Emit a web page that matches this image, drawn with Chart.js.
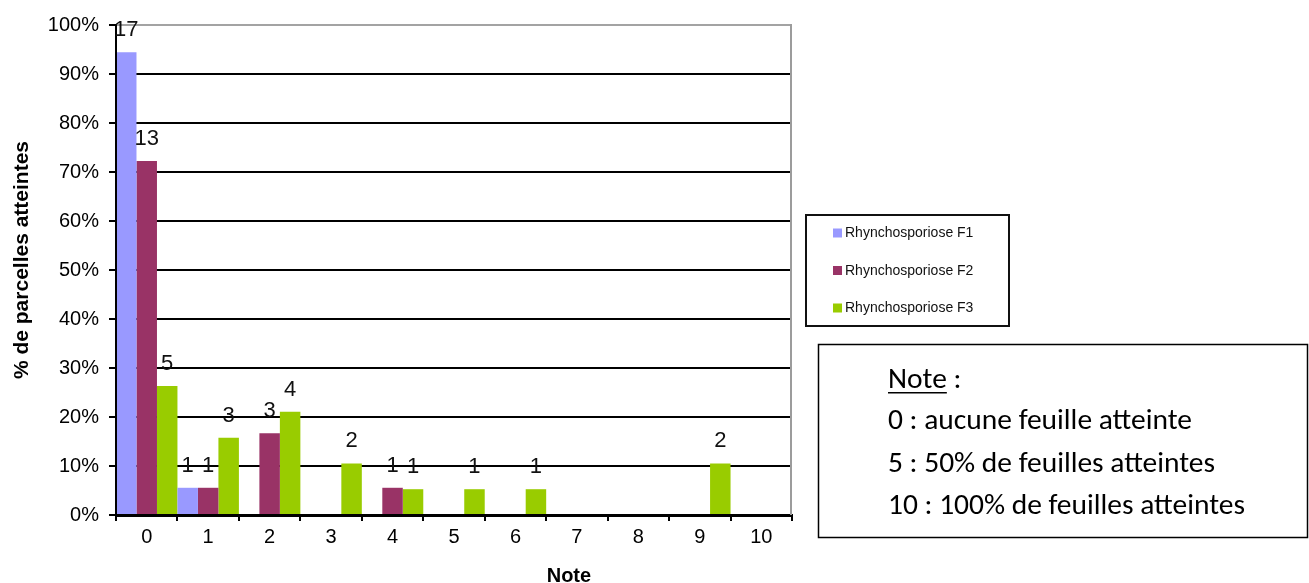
<!DOCTYPE html>
<html lang="fr">
<head>
<meta charset="utf-8">
<title>Rhynchosporiose – notes par étage foliaire</title>
<script src="https://cdn.jsdelivr.net/npm/chart.js@4.4.1/dist/chart.umd.min.js"></script>
<style>
  html, body { margin: 0; padding: 0; background: #fff; }
  canvas { display: block; }
</style>
</head>
<body>
<canvas id="chart" width="1309" height="583"></canvas>
<script>
// Notes de 0 à 10 (axe des catégories)
const notes = ['0', '1', '2', '3', '4', '5', '6', '7', '8', '9', '10'];

// Nombre de parcelles par note, pour chaque étage foliaire
const countsF1 = [17, 1, 0, 0, 0, 0, 0, 0, 0, 0, 0];
const countsF2 = [13, 1, 3, 0, 1, 0, 0, 0, 0, 0, 0];
const countsF3 = [5, 3, 4, 2, 1, 1, 1, 0, 0, 2, 0];

const seriesNames = ['Rhynchosporiose F1', 'Rhynchosporiose F2', 'Rhynchosporiose F3'];
const seriesColors = ['#9999FF', '#993366', '#99CC00'];

// Graduations de l'axe vertical (en %)
const yTickValues = [0, 10, 20, 30, 40, 50, 60, 70, 80, 90, 100];

// Texte de l'encadré explicatif
const noteTitle = 'Note';
const noteLines = [
  '0 : aucune feuille atteinte',
  '5 : 50% de feuilles atteintes',
  '10 : 100% de feuilles atteintes'
];

const seriesCounts = [countsF1, countsF2, countsF3];

// Part des parcelles atteintes : effectif de la note / total de la série
function toShare(counts) {
  const total = counts.reduce((s, v) => s + v, 0);
  return counts.map(v => v / total * 100);
}

const SANS = '"Liberation Sans", Arial, sans-serif';

const decorations = {
  id: 'decorations',
  beforeDatasetsDraw(chart) {
    const { ctx, chartArea: a } = chart;
    // bord droit du cadre du graphique
    ctx.save();
    ctx.strokeStyle = '#9c9c9c';
    ctx.lineWidth = 2;
    ctx.beginPath();
    ctx.moveTo(a.right - 1, a.top - 1);
    ctx.lineTo(a.right - 1, a.bottom);
    ctx.stroke();
    ctx.restore();
  },
  afterDatasetsDraw(chart) {
    const { ctx, chartArea: a } = chart;
    ctx.save();
    // axes repassés par-dessus le pied des barres
    ctx.strokeStyle = '#000';
    ctx.lineWidth = 2;
    ctx.beginPath();
    ctx.moveTo(a.left, a.top);
    ctx.lineTo(a.left, a.bottom + 1);
    ctx.lineTo(a.right, a.bottom + 1);
    ctx.stroke();

    // effectifs au-dessus des barres
    ctx.font = '22px ' + SANS;
    ctx.fillStyle = '#111';
    ctx.textAlign = 'center';
    ctx.textBaseline = 'alphabetic';
    chart.data.datasets.forEach((ds, i) => {
      const meta = chart.getDatasetMeta(i);
      meta.data.forEach((bar, j) => {
        const n = seriesCounts[i][j];
        if (n > 0) ctx.fillText(String(n), bar.x, bar.y - 16);
      });
    });
    ctx.restore();
  },
  afterDraw(chart) {
    const { ctx, chartArea: a } = chart;
    ctx.save();
    ctx.fillStyle = '#000';

    // titre de l'axe vertical
    ctx.save();
    ctx.font = 'bold 21px ' + SANS;
    ctx.translate(28, (a.top + a.bottom) / 2 - 10);
    ctx.rotate(-Math.PI / 2);
    ctx.textAlign = 'center';
    ctx.textBaseline = 'alphabetic';
    ctx.fillText('% de parcelles atteintes', 0, 0);
    ctx.restore();

    // titre de l'axe horizontal
    ctx.font = 'bold 20px ' + SANS;
    ctx.textAlign = 'center';
    ctx.textBaseline = 'alphabetic';
    ctx.fillText('Note', a.left + (a.right - a.left) * 0.67, 582);

    // légende encadrée
    const lg = { x: 806, y: 215, w: 203, h: 111 };
    ctx.strokeStyle = '#111';
    ctx.lineWidth = 2;
    ctx.strokeRect(lg.x, lg.y, lg.w, lg.h);
    ctx.font = '14px ' + SANS;
    ctx.textAlign = 'left';
    ctx.textBaseline = 'middle';
    chart.data.datasets.forEach((ds, i) => {
      const cy = 233 + i * 37.5;
      ctx.fillStyle = ds.backgroundColor;
      ctx.fillRect(833, cy - 4.5, 9, 9);
      ctx.fillStyle = '#111';
      ctx.fillText(ds.label, 845, cy + 0.5);
    });

    // encadré explicatif des notes
    const nb = { x: 818, y: 344, w: 489, h: 193 };
    ctx.strokeStyle = '#000';
    ctx.lineWidth = 1.5;
    ctx.strokeRect(nb.x + 0.5, nb.y + 0.5, nb.w, nb.h);

    const family = 'Carlito, Calibri, Lato, sans-serif';
    ctx.font = '20px ' + family;
    const widest = Math.max(...noteLines.map(t => ctx.measureText(t).width));
    const size = 20 * 357 / widest;
    ctx.font = size.toFixed(2) + 'px ' + family;
    ctx.fillStyle = '#000';
    ctx.textBaseline = 'alphabetic';
    const tx = 888;
    const baselines = [388, 429, 471.5, 514];
    ctx.fillText(noteTitle + ' :', tx, baselines[0]);
    const tw = ctx.measureText(noteTitle).width;
    ctx.fillRect(tx, baselines[0] + 4, tw, 1.5);
    noteLines.forEach((t, k) => ctx.fillText(t, tx, baselines[k + 1]));

    ctx.restore();
  }
};

new Chart(document.getElementById('chart'), {
  type: 'bar',
  data: {
    labels: notes,
    datasets: seriesNames.map((name, i) => ({
      label: name,
      data: toShare(seriesCounts[i]),
      backgroundColor: seriesColors[i],
      borderWidth: 0,
      inflateAmount: 0,
      categoryPercentage: 1.0,
      barPercentage: 1.0
    }))
  },
  options: {
    responsive: false,
    animation: false,
    devicePixelRatio: 1,
    layout: { padding: { left: 0, top: 25, right: 517, bottom: 0 } },
    plugins: {
      legend: { display: false },
      tooltip: { enabled: false },
      title: { display: false }
    },
    scales: {
      x: {
        offset: true,
        grid: {
          display: true,
          drawOnChartArea: false,
          drawTicks: true,
          tickLength: 6,
          tickColor: '#000',
          lineWidth: 2,
          offset: true
        },
        border: { display: true, color: '#000', width: 2 },
        ticks: {
          color: '#000',
          font: { family: SANS, size: 20 },
          padding: 4,
          maxRotation: 0,
          autoSkip: false
        },
        afterFit(scale) { scale.height = 68; }
      },
      y: {
        min: 0,
        max: 100,
        afterBuildTicks(scale) {
          scale.ticks = yTickValues.map(v => ({ value: v }));
        },
        grid: {
          color: c => (c.tick && c.tick.value === 100 ? '#a3a3a3' : '#000'),
          lineWidth: 2,
          tickLength: 7,
          tickColor: '#000',
          tickWidth: 2
        },
        border: { display: true, color: '#000', width: 2 },
        ticks: {
          color: '#000',
          font: { family: SANS, size: 20 },
          padding: 10,
          callback: v => v + '%'
        },
        afterFit(scale) { scale.width = 116; }
      }
    }
  },
  plugins: [decorations]
});
</script>
</body>
</html>
